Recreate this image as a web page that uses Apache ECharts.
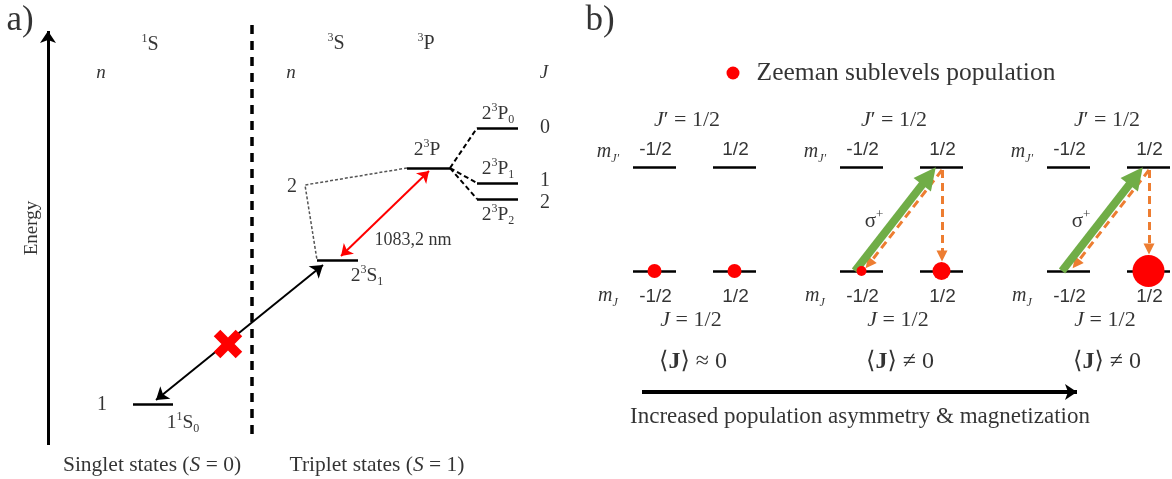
<!DOCTYPE html>
<html>
<head>
<meta charset="utf-8">
<script src="https://cdn.jsdelivr.net/npm/echarts@6/dist/echarts.min.js"></script>
<style>
html, body { margin: 0; background: #fff; }
#chart { width: 1172px; height: 479px; }
</style>
</head>
<body>
<div id="chart"></div>
<script>
const SERIF = '"Liberation Serif", "DejaVu Serif", serif';
const SANS = '"Liberation Sans", Arial, sans-serif';

// ---- a) helium levels: [x from, x to, energy]
const singletLevels = [[133, 173, 404]];
const tripletLevels = [[317, 358, 260], [407, 450, 168]];
const fineLevels = [[477, 518, 128], [477, 518, 183], [477, 518, 199]];
const fineJ = ['0', '1', '2'];
const transition1083 = [[429, 171], [341, 256]];
const forbidden = [[323, 265], [156, 400]];
const forbiddenMark = [[228, 344]];
const n2Guide = [[407, 168], [305, 185], [317, 260]];

// ---- b) Zeeman sublevels
const groupShift = [0, 207, 414];
const sublevelX = [[633, 676], [713, 756]];   // mJ = -1/2, 1/2
const levelY = [167, 271];                     // J' (upper), J (lower)
const population = [[14, 14], [10, 18], [0, 32]];
const meanJ = ['\u2248', '\u2260', '\u2260'];
const pumped = [false, true, true];

// ---- text
const panelTags = [['a)', 20, 21], ['b)', 600, 21]];
const termLabels = [['{sp|1}S', 150, 45], ['{sp|3}S', 336, 44], ['{sp|3}P', 426, 44]];
const italicLabels = [['{it|n}', 101, 73], ['{it|n}', 291, 73], ['{it|J}', 544, 73]];
const stateLabels = [['2{sp|3}P{sb|0}', 498, 114], ['2{sp|3}P{sb|1}', 498, 169],
  ['2{sp|3}P{sb|2}', 498, 215], ['2{sp|3}P', 427, 150], ['2{sp|3}S{sb|1}', 367, 276],
  ['1{sp|1}S{sb|0}', 183, 423]];
const nLabels = [['2', 292, 187], ['1', 102, 405]];
const captionsA = [['Singlet states ({it|S} = 0)', 152, 465], ['Triplet states ({it|S} = 1)', 377, 465],
  ['1083,2 nm', 413, 240]];

const grey = '#555';
const green = '#70AD47';
const orange = '#ED7D31';

function richFor(fs, fam) {
  const f = fam || SERIF;
  const s = Math.round(fs * 0.62);
  return {
    sp: { fontSize: s, fontFamily: f, verticalAlign: 'top', lineHeight: Math.round(fs * 0.85) },
    sb: { fontSize: s, fontFamily: f, verticalAlign: 'bottom', lineHeight: Math.round(fs * 0.7) },
    it: { fontSize: fs, fontFamily: f, fontStyle: 'italic' },
    isb: { fontSize: s, fontFamily: f, fontStyle: 'italic', verticalAlign: 'bottom', lineHeight: Math.round(fs * 0.75) },
    bf: { fontSize: fs, fontFamily: f, fontWeight: 'bold' }
  };
}

function textSeries(items, fs, extra) {
  const fam = (extra && extra.fontFamily) || SERIF;
  return {
    type: 'scatter', symbolSize: 1, silent: true, z: 5,
    itemStyle: { color: 'rgba(0,0,0,0)' },
    label: Object.assign({
      show: true, position: 'inside', color: '#000',
      fontFamily: fam, fontSize: fs, lineHeight: Math.round(fs * 1.25),
      formatter: p => p.data[2],
      rich: richFor(fs, fam)
    }, extra || {}),
    data: items.map(t => [t[1], t[2], t[0]])
  };
}

function seg(a, b, color, width, type, sym, size) {
  return {
    coords: [a, b],
    lineStyle: { color: color, width: width, type: type || 'solid', opacity: 1 },
    symbol: sym || 'none',
    symbolSize: size || 0
  };
}

// a) line work
const linesA = [];
linesA.push(seg([48, 445], [48, 31], '#000', 3, 'solid', ['none', 'arrow'], [0, 12]));
linesA.push(seg([252, 25], [252, 440], '#000', 3.5, [9, 7]));
singletLevels.concat(tripletLevels, fineLevels).forEach(l => {
  linesA.push(seg([l[0], l[2]], [l[1], l[2]], '#000', 2.5));
});
const p2 = tripletLevels[1];
fineLevels.forEach(l => {
  linesA.push(seg([p2[1], p2[2]], [l[0], l[2]], '#000', 2, [5, 3]));
});
linesA.push(seg(transition1083[0], transition1083[1], '#ff0000', 2, 'solid', ['arrow', 'arrow'], [11, 11]));
linesA.push(seg(forbidden[0], forbidden[1], '#000', 2, 'solid', ['arrow', 'arrow'], [12, 12]));

// b) line work
const linesB = [];
const dots = [];
const textB = { jUp: [], jLow: [], mLab: [], frac: [], mean: [], sigma: [] };
groupShift.forEach((o, g) => {
  sublevelX.forEach((x, k) => {
    levelY.forEach(y => linesB.push(seg([x[0] + o, y], [x[1] + o, y], '#000', 2.5)));
    const mid = (x[0] + x[1]) / 2 + o;
    if (population[g][k] > 0) dots.push([mid, levelY[1], population[g][k]]);
    textB.frac.push([k === 0 ? '-1/2' : '1/2', mid + 1, 150]);
    textB.frac.push([k === 0 ? '-1/2' : '1/2', mid + 1, 297]);
  });
  textB.jUp.push(['{it|J}\u2032 = 1/2', 687 + o + (g === 2 ? 6 : 0), 120]);
  textB.jLow.push(['{it|J} = 1/2', 691 + o, 320]);
  textB.mLab.push(['{it|m}{isb|J\u2032}', 608 + o, 152]);
  textB.mLab.push(['{it|m}{isb|J}', 608 + o, 296]);
  textB.mean.push(['\u27e8{bf|J}\u27e9 ' + meanJ[g] + ' 0', 693 + o, 362]);
  if (pumped[g]) {
    const lo = sublevelX[0][0] + o;
    const up = sublevelX[1][0] + o;
    linesB.push(seg([up + 22, 170], [lo + 29, 264], orange, 3, [8, 5], ['none', 'triangle'], [0, 11]));
    linesB.push(seg([up + 22, 170], [up + 22, 256 - (g === 2 ? 7 : 0)], orange, 3, [8, 5], ['none', 'triangle'], [0, 11]));
    linesB.push(seg([lo + 15, 271], [up + 9, 176], green, 8, 'solid', ['none', 'triangle'], [0, 22]));
    textB.sigma.push(['\u03c3{sp|+}', 874 + (g - 1) * 207, 221]);
  }
});
linesB.push(seg([642, 392], [1077, 392], '#000', 4, 'solid', ['none', 'arrow'], [0, 12]));

const chart = echarts.init(document.getElementById('chart'), null, { renderer: 'canvas' });
chart.setOption({
  backgroundColor: '#fff',
  animation: false,
  grid: { left: 0, right: 0, top: 0, bottom: 0 },
  xAxis: { type: 'value', min: 0, max: 1172, show: false },
  yAxis: { type: 'value', min: 0, max: 479, inverse: true, show: false },
  series: [
    { type: 'lines', coordinateSystem: 'cartesian2d', silent: true, z: 2, data: linesA },
    {
      type: 'lines', coordinateSystem: 'cartesian2d', polyline: true, silent: true, z: 1,
      lineStyle: { color: grey, width: 1.5, type: [3, 2], opacity: 1 },
      data: [{ coords: n2Guide }]
    },
    { type: 'lines', coordinateSystem: 'cartesian2d', silent: true, z: 2, data: linesB },
    {
      type: 'scatter', silent: true, z: 4,
      symbol: 'path://M3.5,0 H6.5 V3.5 H10 V6.5 H6.5 V10 H3.5 V6.5 H0 V3.5 H3.5 Z',
      symbolRotate: 45, symbolSize: 31,
      itemStyle: { color: '#ff0000', opacity: 1 },
      data: forbiddenMark
    },
    {
      type: 'scatter', silent: true, z: 4,
      symbolSize: v => v[2],
      itemStyle: { color: '#ff0000', opacity: 1 },
      data: dots.concat([[733, 73, 13]])
    },
    textSeries(panelTags, 35),
    textSeries([['Energy', 32, 228]], 19, { rotate: 90 }),
    textSeries(termLabels, 20),
    textSeries(italicLabels, 19),
    textSeries(stateLabels, 19.5),
    textSeries(nLabels, 20),
    textSeries(fineJ.map((t, i) => [t, 545, [128, 181, 203][i]]), 20),
    textSeries(captionsA.slice(0, 2), 21.5),
    textSeries(captionsA.slice(2), 18),
    textSeries([['Zeeman sublevels population', 906, 73]], 25.5),
    textSeries(textB.jUp, 22),
    textSeries(textB.jLow, 22),
    textSeries(textB.mLab, 20),
    textSeries(textB.frac, 19, { fontFamily: SANS }),
    textSeries(textB.mean, 24),
    textSeries(textB.sigma, 21),
    textSeries([['Increased population asymmetry & magnetization', 860, 417]], 23)
  ]
});
</script>
</body>
</html>
